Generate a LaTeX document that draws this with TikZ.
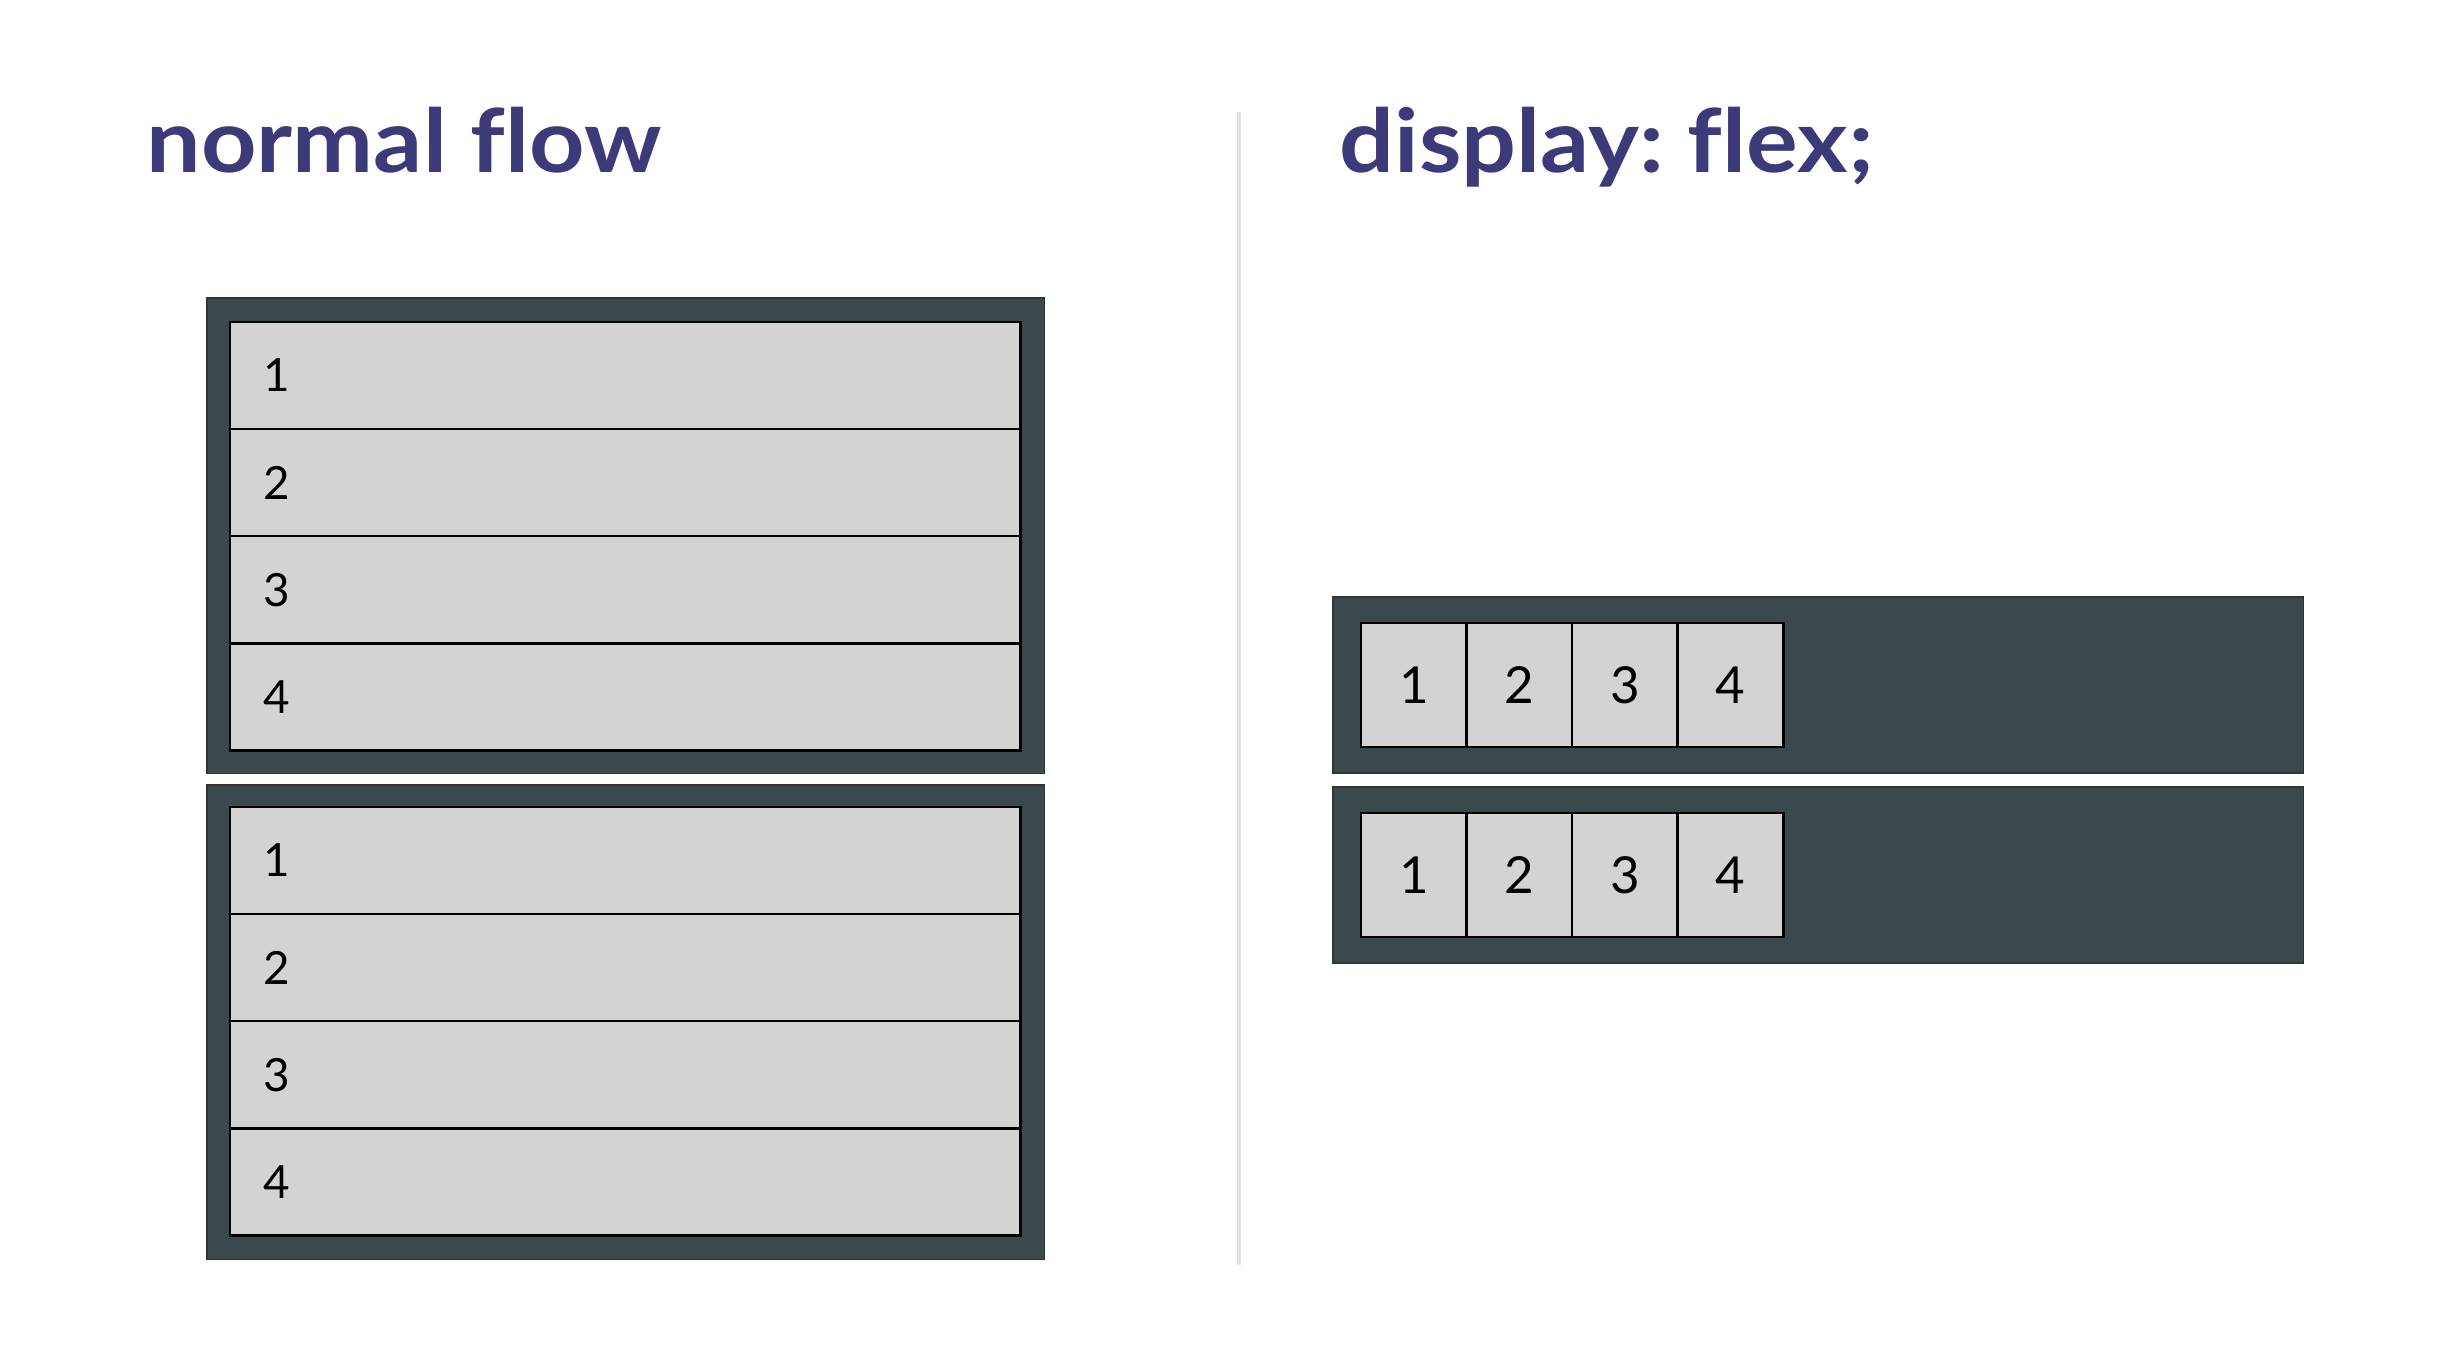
\documentclass[tikz,border=0pt]{standalone}
\usepackage{fontspec}
\setmainfont{Lato}[Ligatures=NoCommon]
\frenchspacing
\definecolor{titleblue}{RGB}{60,58,120}
\definecolor{slate}{RGB}{58,73,76}
\definecolor{itemgray}{RGB}{211,211,211}
\definecolor{rulegray}{RGB}{226,226,226}
\usetikzlibrary{positioning}

\begin{document}
\begin{tikzpicture}[
  x=0.01cm, y=-0.01cm,
  node distance=0cm,
  heading/.style={anchor=base west, inner sep=0pt, text=titleblue,
                  font=\fontsize{25}{30}\selectfont\bfseries\addfontfeatures{FakeStretch=1.1}},
  container/.style={draw=black!80, line width=0.4pt, fill=slate,
                    anchor=north west, inner sep=0pt, outer sep=0pt},
  blockrow/.style={draw=black, line width=0.75pt, fill=itemgray, outer sep=0pt,
                   inner ysep=0pt, inner xsep=0.33cm, text width=7.24cm,
                   minimum height=1.07cm, align=left,
                   font=\fontsize{13}{15}\selectfont},
  flexitem/.style={draw=black, line width=0.75pt, fill=itemgray, outer sep=0pt,
                   inner sep=0pt, minimum width=1.055cm, minimum height=1.24cm,
                   font=\fontsize{14.5}{17}\selectfont},
  divider/.style={draw=rulegray, line width=1.1pt}
]
\useasboundingbox[fill=white] (0,0) rectangle (2447,1350);

% headings
\node[heading] (normal) at (146,172) {normal flow};
\node[heading] (flex) at (1339,172) {display: flex;};

% divider
\coordinate (divtop) at (1239,112);
\coordinate (divbot) at (1239,1265);
\draw[divider] (divtop) -- (divbot);

% normal flow
\node[container, minimum width=8.37cm, minimum height=4.75cm] (blockA) at (207,298) {};
\node[blockrow, anchor=north west] (a1) at (230,322) {1};
\node[blockrow, below=of a1] (a2) {2};
\node[blockrow, below=of a2] (a3) {3};
\node[blockrow, below=of a3] (a4) {4};

\node[container, minimum width=8.37cm, minimum height=4.74cm] (blockB) at (207,785) {};
\node[blockrow, anchor=north west] (b1) at (230,807) {1};
\node[blockrow, below=of b1] (b2) {2};
\node[blockrow, below=of b2] (b3) {3};
\node[blockrow, below=of b3] (b4) {4};

% flex
\node[container, minimum width=9.70cm, minimum height=1.76cm] (flexA) at (1333,597) {};
\node[flexitem, anchor=north west] (c1) at (1361,623) {1};
\node[flexitem, right=of c1] (c2) {2};
\node[flexitem, right=of c2] (c3) {3};
\node[flexitem, right=of c3] (c4) {4};

\node[container, minimum width=9.70cm, minimum height=1.76cm] (flexB) at (1333,787) {};
\node[flexitem, anchor=north west] (d1) at (1361,813) {1};
\node[flexitem, right=of d1] (d2) {2};
\node[flexitem, right=of d2] (d3) {3};
\node[flexitem, right=of d3] (d4) {4};
\end{tikzpicture}
\end{document}
